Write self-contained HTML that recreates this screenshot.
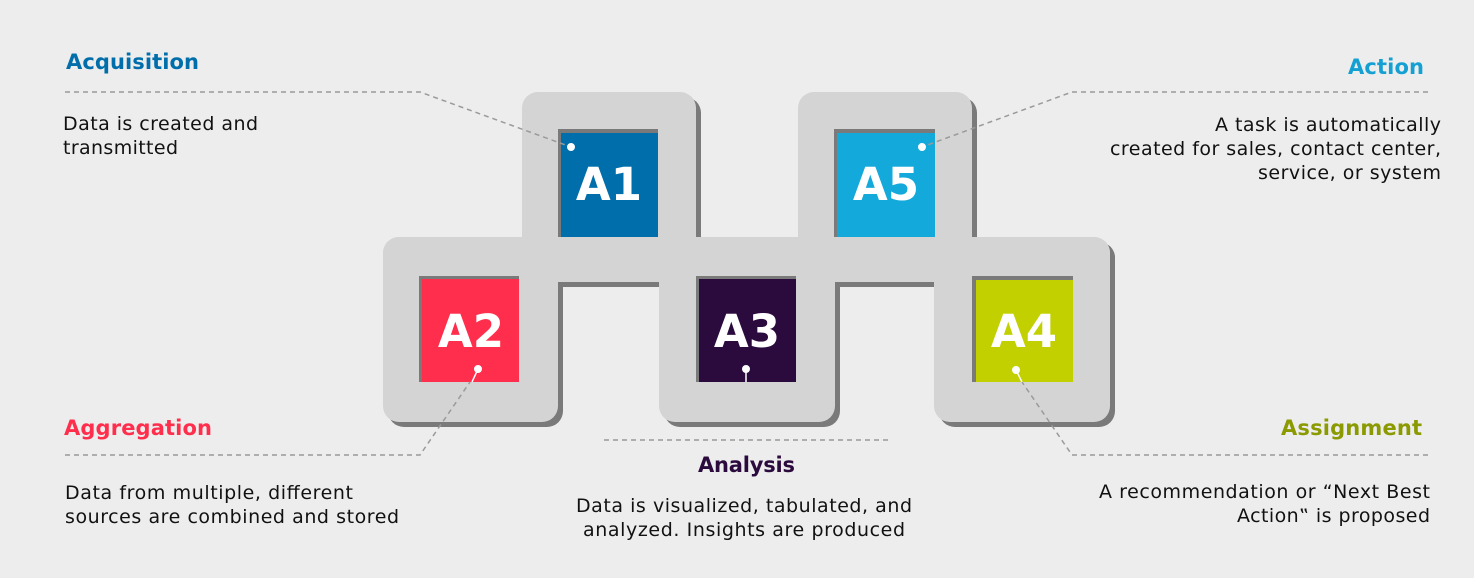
<!DOCTYPE html>
<html><head><meta charset="utf-8"><style>
html,body{margin:0;padding:0;background:#ededed;}
svg{display:block;}
text{font-family:"DejaVu Sans","Liberation Sans",sans-serif;}
.b{font-size:19px;fill:#111;}
.t{font-size:21px;font-weight:bold;}
.d{stroke:#9a9a9a;stroke-width:1.5;stroke-dasharray:5 4;fill:none;}
.n{font-size:45px;font-weight:bold;fill:#fff;text-anchor:middle;}
</style></head><body>
<svg width="1474" height="578" viewBox="0 0 1474 578" xmlns="http://www.w3.org/2000/svg">
<rect width="1474" height="578" fill="#ededed"/>
<g fill="#7a7a7a" transform="translate(5,5)">
<rect x="522" y="92" width="174" height="190" rx="16"/>
<rect x="798" y="92" width="174" height="190" rx="16"/>
<rect x="383" y="237" width="727" height="40" rx="16"/>
<rect x="383" y="237" width="175" height="185" rx="16"/>
<rect x="659" y="237" width="176" height="185" rx="16"/>
<rect x="934" y="237" width="176" height="185" rx="16"/>
</g>
<g fill="#d4d4d4">
<rect x="522" y="92" width="174" height="190" rx="16"/>
<rect x="798" y="92" width="174" height="190" rx="16"/>
<rect x="383" y="237" width="727" height="40" rx="16"/>
<rect x="383" y="237" width="175" height="185" rx="16"/>
<rect x="659" y="237" width="176" height="185" rx="16"/>
<rect x="934" y="237" width="176" height="185" rx="16"/>
<rect x="522" y="237" width="174" height="40"/>
<rect x="798" y="237" width="174" height="40"/>
</g>
<g fill="#7a7a7a">
<rect x="558" y="129" width="100" height="108"/>
<rect x="834" y="129" width="101" height="108"/>
<rect x="419" y="276" width="100" height="106"/>
<rect x="696" y="276" width="100" height="106"/>
<rect x="972" y="276" width="101" height="106"/>
</g>
<rect x="561" y="133" width="97" height="104" fill="#006eab"/>
<rect x="837" y="133" width="98" height="104" fill="#14a9db"/>
<rect x="422" y="279" width="97" height="103" fill="#ff2e4c"/>
<rect x="699" y="279" width="97" height="103" fill="#2b0a3d"/>
<rect x="976" y="280" width="97" height="102" fill="#c3d000"/>
<text class="n" x="609" y="200">A1</text>
<text class="n" x="886" y="200">A5</text>
<text class="n" x="471" y="347">A2</text>
<text class="n" x="747" y="347">A3</text>
<text class="n" x="1024" y="347">A4</text>
<path class="d" d="M65 92 H420 L571 147"/>
<path class="d" d="M1428 92 H1072 L922 147"/>
<path class="d" d="M65 455 H420 L470 382"/>
<path class="d" d="M1428 455 H1072 L1022 382"/>
<path class="d" d="M604 440 H889"/>
<g fill="#fff" stroke="#fff">
<circle cx="571" cy="147" r="3.5"/>
<circle cx="922" cy="147" r="3.5"/>
<circle cx="478" cy="369" r="3.5"/>
<line x1="478" y1="369" x2="472" y2="382" stroke-width="1.5"/>
<circle cx="746" cy="369" r="3.5"/>
<line x1="746" y1="369" x2="746" y2="382" stroke-width="1.5"/>
<circle cx="1016" cy="370" r="3.5"/>
<line x1="1016" y1="370" x2="1022" y2="382" stroke-width="1.5"/>
</g>
<text class="t" x="66" y="69" fill="#006eab" textLength="133">Acquisition</text>
<text class="b" x="63" y="130" textLength="195">Data is created and</text>
<text class="b" x="63" y="154" textLength="115">transmitted</text>
<text class="t" x="1348" y="74" fill="#14a0d2" textLength="76">Action</text>
<text class="b" x="1215" y="131" textLength="226">A task is automatically</text>
<text class="b" x="1110" y="155" textLength="331">created for sales, contact center,</text>
<text class="b" x="1258" y="179" textLength="183">service, or system</text>
<text class="t" x="64" y="435" fill="#ff2e4c" textLength="148">Aggregation</text>
<text class="b" x="65" y="499" textLength="288">Data from multiple, different</text>
<text class="b" x="65" y="523" textLength="334">sources are combined and stored</text>
<text class="t" x="698" y="472" fill="#2b0a3d" textLength="97">Analysis</text>
<text class="b" x="576" y="512" textLength="336">Data is visualized, tabulated, and</text>
<text class="b" x="583" y="536" textLength="322">analyzed. Insights are produced</text>
<text class="t" x="1281" y="435" fill="#8a9a00" textLength="141">Assignment</text>
<text class="b" x="1099" y="498" textLength="331">A recommendation or “Next Best</text>
<text class="b" x="1237" y="522" textLength="193">Action‟ is proposed</text>
</svg>
</body></html>
